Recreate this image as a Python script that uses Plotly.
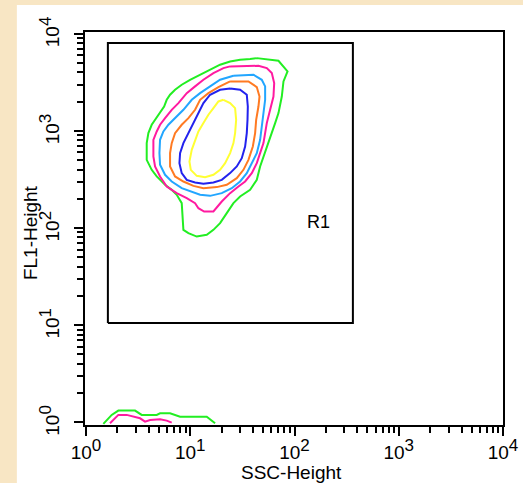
import numpy as np
import plotly.graph_objects as go

# ---------------- data (log10 decades of SSC-Height / FL1-Height) ----------------
green_ssc = [1.638, 1.734, 1.846, 1.933, 1.894, 1.878, 1.846, 1.814, 1.782, 1.750, 1.718, 1.670, 1.638, 1.574,
             1.478, 1.414, 1.350, 1.286, 1.222, 1.158, 1.062, 0.982, 0.934, 0.928, 0.918, 0.870, 0.822, 0.758,
             0.678, 0.630, 0.582, 0.582, 0.598, 0.630, 0.662, 0.710, 0.749, 0.774, 0.806, 0.854, 0.918, 0.998,
             1.094, 1.206, 1.286, 1.382, 1.478, 1.574]
green_fl1 = [3.749, 3.739, 3.722, 3.612, 3.509, 3.354, 3.183, 3.080, 2.977, 2.874, 2.771, 2.634, 2.496, 2.393,
             2.324, 2.256, 2.153, 2.050, 1.981, 1.930, 1.912, 1.947, 1.981, 2.118, 2.256, 2.342, 2.393, 2.445,
             2.531, 2.599, 2.702, 2.874, 2.977, 3.063, 3.114, 3.183, 3.251, 3.320, 3.372, 3.423, 3.475, 3.526,
             3.578, 3.646, 3.681, 3.715, 3.732, 3.739]

pink_ssc = [1.382, 1.654, 1.734, 1.782, 1.805, 1.798, 1.766, 1.734, 1.718, 1.702, 1.670, 1.638, 1.590, 1.526,
            1.462, 1.382, 1.302, 1.222, 1.133, 1.078, 1.046, 0.966, 0.870, 0.774, 0.710, 0.662, 0.646, 0.646,
            0.678, 0.710, 0.758, 0.822, 0.886, 0.966, 1.046, 1.126, 1.222, 1.318]
pink_fl1 = [3.664, 3.670, 3.646, 3.595, 3.492, 3.354, 3.217, 3.080, 2.977, 2.874, 2.771, 2.668, 2.565, 2.479,
            2.427, 2.359, 2.273, 2.170, 2.170, 2.204, 2.256, 2.307, 2.359, 2.427, 2.531, 2.634, 2.736, 2.908,
            2.994, 3.063, 3.131, 3.217, 3.286, 3.389, 3.458, 3.526, 3.595, 3.646]

lblue_ssc = [1.414, 1.606, 1.686, 1.718, 1.718, 1.702, 1.686, 1.670, 1.638, 1.590, 1.542, 1.478, 1.398, 1.302,
             1.190, 1.094, 1.014, 0.918, 0.822, 0.758, 0.710, 0.704, 0.710, 0.742, 0.790, 0.854, 0.934, 1.014,
             1.094, 1.190, 1.286]
lblue_fl1 = [3.567, 3.578, 3.526, 3.458, 3.320, 3.183, 3.046, 2.908, 2.771, 2.668, 2.565, 2.479, 2.410, 2.359,
             2.331, 2.342, 2.376, 2.410, 2.479, 2.548, 2.651, 2.771, 2.908, 2.994, 3.063, 3.131, 3.217, 3.320,
             3.389, 3.458, 3.526]

orange_ssc = [1.382, 1.558, 1.638, 1.664, 1.654, 1.632, 1.622, 1.600, 1.558, 1.510, 1.446, 1.350, 1.254, 1.126,
              1.030, 0.934, 0.854, 0.806, 0.806, 0.822, 0.854, 0.918, 0.982, 1.046, 1.094, 1.174, 1.270]
orange_fl1 = [3.509, 3.509, 3.451, 3.354, 3.251, 3.114, 2.977, 2.839, 2.702, 2.599, 2.513, 2.445, 2.421, 2.410,
              2.434, 2.479, 2.531, 2.634, 2.771, 2.874, 2.977, 3.063, 3.131, 3.217, 3.320, 3.389, 3.451]

blue_ssc = [1.382, 1.478, 1.542, 1.552, 1.549, 1.542, 1.526, 1.494, 1.446, 1.382, 1.302, 1.222, 1.126, 1.046,
            0.966, 0.918, 0.896, 0.902, 0.934, 0.982, 1.030, 1.078, 1.126, 1.190, 1.286]
blue_fl1 = [3.437, 3.423, 3.372, 3.251, 3.114, 2.977, 2.839, 2.719, 2.634, 2.565, 2.496, 2.469, 2.455, 2.469,
            2.496, 2.565, 2.668, 2.771, 2.874, 2.977, 3.080, 3.183, 3.286, 3.372, 3.423]

yellow_ssc = [1.318, 1.382, 1.430, 1.440, 1.430, 1.414, 1.382, 1.334, 1.286, 1.222, 1.142, 1.062, 1.005, 0.992,
              1.014, 1.046, 1.078, 1.126, 1.174, 1.222, 1.270]
yellow_fl1 = [3.320, 3.286, 3.234, 3.114, 2.977, 2.874, 2.771, 2.668, 2.599, 2.548, 2.524, 2.537, 2.599, 2.685,
              2.805, 2.908, 2.994, 3.080, 3.166, 3.234, 3.303]

# debris population at the bottom axis (open curves)
low_green_ssc = [0.166, 0.246, 0.310, 0.470, 0.534, 0.678, 0.710, 0.806, 0.902, 1.158, 1.238]
low_green_fl1 = [-0.017, 0.076, 0.120, 0.120, 0.076, 0.076, 0.093, 0.093, 0.058, 0.058, -0.010]
low_pink_ssc = [0.230, 0.310, 0.390, 0.518, 0.566, 0.614, 0.710, 0.774, 0.822]
low_pink_fl1 = [-0.010, 0.076, 0.076, 0.041, 0.007, 0.024, 0.031, 0.017, -0.003]

# gate R1 (SSC, FL1 values)
r1_ssc = [1.62, 363]
r1_fl1 = [10.5, 8035]
r1_label_pos = [170, 110]

tick_vals = [1, 10, 100, 1000, 10000]
tick_exps = [0, 1, 2, 3, 4]

contours = [
    (green_ssc, green_fl1, "#22ee22", True),
    (pink_ssc, pink_fl1, "#ff1aa0", True),
    (lblue_ssc, lblue_fl1, "#22a6ff", True),
    (orange_ssc, orange_fl1, "#ff7a22", True),
    (blue_ssc, blue_fl1, "#2222ee", True),
    (yellow_ssc, yellow_fl1, "#ffff33", True),
    (low_green_ssc, low_green_fl1, "#22ee22", False),
    (low_pink_ssc, low_pink_fl1, "#ff1aa0", False),
]

FONT = "Arial, Liberation Sans, sans-serif"
tick_text = ["10<sup><span style='font-size:17px'>%d</span></sup>" % e for e in tick_exps]

fig = go.Figure()
for xs, ys, col, closed in contours:
    xs = list(xs) + ([xs[0]] if closed else [])
    ys = list(ys) + ([ys[0]] if closed else [])
    fig.add_trace(go.Scatter(x=np.power(10.0, xs), y=np.power(10.0, ys), mode="lines",
                             line=dict(color=col, width=2), hoverinfo="skip", showlegend=False))

# gate rectangle
fig.add_trace(go.Scatter(x=[r1_ssc[0], r1_ssc[1], r1_ssc[1], r1_ssc[0], r1_ssc[0]],
                         y=[r1_fl1[0], r1_fl1[0], r1_fl1[1], r1_fl1[1], r1_fl1[0]],
                         mode="lines", line=dict(color="black", width=2), showlegend=False, hoverinfo="skip"))
fig.add_trace(go.Scatter(x=[r1_label_pos[0]], y=[r1_label_pos[1]], mode="text", text=["R1"],
                         textfont=dict(family=FONT, size=18, color="black"), showlegend=False, hoverinfo="skip"))

axis_common = dict(type="log", showgrid=False, zeroline=False, showline=True, linecolor="black",
                   linewidth=2, mirror=True, ticks="outside", ticklen=9, tickwidth=2, tickcolor="black",
                   tickmode="array", tickvals=tick_vals,
                   tickfont=dict(family=FONT, size=19, color="black"),
                   minor=dict(ticks="outside", ticklen=6, tickwidth=2, tickcolor="black", dtick="D1",
                              showgrid=False))

fig.update_xaxes(range=[-0.01, 4.0], ticktext=tick_text, **axis_common)
fig.update_yaxes(range=[-0.028, 4.018], showticklabels=False, **axis_common)

# rotated y tick labels, positioned on the y axis scale
for v, txt in zip(tick_vals, tick_text):
    fig.add_annotation(text=txt, xref="paper", yref="y", x=-0.085, y=np.log10(v), yshift=2,
                       textangle=-90, xanchor="center", yanchor="middle", showarrow=False,
                       font=dict(family=FONT, size=19, color="black"))

# white panel behind the plot
fig.add_shape(type="rect", xref="paper", yref="paper", x0=-0.163, x1=1.06, y0=-0.2, y1=1.069,
              fillcolor="white", line=dict(width=0), layer="below")

fig.add_annotation(text="SSC-Height", xref="paper", yref="paper", x=0.495, y=-0.089, yanchor="top",
                   showarrow=False, font=dict(family=FONT, size=19, color="black"))
fig.add_annotation(text="FL1-Height", xref="paper", yref="paper", x=-0.13, y=0.49, textangle=-90,
                   xanchor="center", yanchor="middle",
                   showarrow=False, font=dict(family=FONT, size=19, color="black"))

fig.update_layout(width=523, height=483, margin=dict(l=85, r=20, t=32, b=58, autoexpand=False),
                  paper_bgcolor="#f8e6c4", plot_bgcolor="white")

fig.write_html("out.html", config={"displayModeBar": False},
               post_script="document.body.style.margin='0';document.body.style.background='#f8e6c4';")
